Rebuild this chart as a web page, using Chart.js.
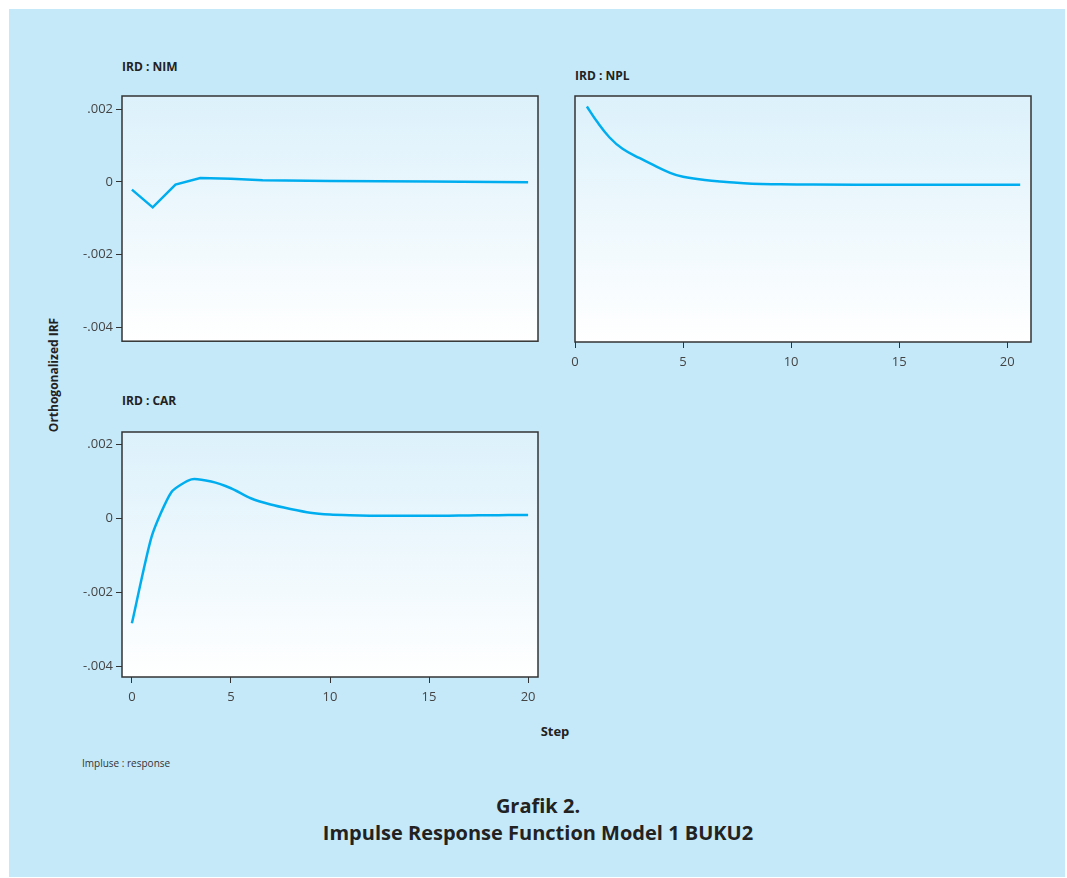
<!DOCTYPE html>
<html>
<head>
<meta charset="utf-8">
<script src="https://cdn.jsdelivr.net/npm/chart.js@4.4.1/dist/chart.umd.min.js"></script>
<style>
  html,body{margin:0;padding:0;background:#fff;}
  body{width:1067px;height:878px;position:relative;overflow:hidden;font-family:'Open Sans',sans-serif;}
  #bg{position:absolute;left:9px;top:9px;width:1056px;height:868px;background:#c6e9f9;}
  .cv{position:absolute;}
  .txt{position:absolute;color:#222;white-space:nowrap;line-height:1;}
  .ttl{font-size:12px;font-weight:700;}
</style>
</head>
<body>
<div id="bg"></div>

<div class="txt ttl" style="left:122px;top:61px;">IRD : NIM</div>
<div class="txt ttl" style="left:575px;top:70px;">IRD : NPL</div>
<div class="txt ttl" style="left:122px;top:395px;">IRD : CAR</div>
<div class="txt" style="left:54px;top:375px;font-size:12px;font-weight:700;transform:translate(-50%,-50%) rotate(-90deg);">Orthogonalized IRF</div>
<div class="txt" style="left:555px;top:731px;font-size:13px;font-weight:700;transform:translate(-50%,-50%);">Step</div>
<div class="txt" style="left:82px;top:758px;font-size:10px;color:#333;">Impluse : response</div>
<div class="txt" style="left:538px;top:806px;font-size:20px;font-weight:700;transform:translate(-50%,-50%);">Grafik 2.</div>
<div class="txt" style="left:538px;top:833px;font-size:20px;font-weight:700;transform:translate(-50%,-50%);">Impulse Response Function Model 1 BUKU2</div>

<canvas id="cNim" class="cv" style="left:40px;top:80px;width:510px;height:272px;" width="510" height="272"></canvas>
<canvas id="cNpl" class="cv" style="left:565px;top:80px;width:478px;height:298px;" width="478" height="298"></canvas>
<canvas id="cCar" class="cv" style="left:40px;top:416px;width:510px;height:297px;" width="510" height="297"></canvas>

<script>
// values
const yTicks = [0.002, 0, -0.002, -0.004];
const yTickLabels = ['.002', '0', '-.002', '-.004'];
const xTicks = [0, 5, 10, 15, 20];

const nimStep = [0, 1.05, 2.2, 3.45, 5, 6.6, 10, 15, 20];
const nimIrf  = [-0.00021, -0.00070, -0.00007, 0.00011, 0.00009, 0.00005, 0.00003, 0.00001, -0.00001];

const nplStep = [0.55, 1.0, 1.6, 2.2, 3.0, 3.5, 4.4, 5.0, 6.0, 7.0, 8.2, 9.5, 11, 15, 20.6];
const nplIrf  = [0.00208, 0.00168, 0.00123, 0.00092, 0.00066, 0.00051, 0.00026, 0.00015, 0.00006, 0.00001,
                 -0.00004, -0.000055, -0.000065, -0.00007, -0.00007];

const carStep = [0,1,2,3,4,5,6,7,8,9,10,11,12,13,14,15,16,17,18,19,20];
const carIrf  = [-0.00283, -0.00048, 0.00072, 0.00106, 0.00100, 0.00082, 0.00055, 0.00038, 0.00026, 0.00016,
                 0.00011, 0.00009, 0.00008, 0.00008, 0.00008, 0.00008, 0.00008, 0.000085, 0.00009, 0.000095, 0.0001];

Chart.defaults.font.family = "'Open Sans', sans-serif";
Chart.defaults.color = '#444';

const panelPlugin = {
  id:'panel',
  beforeDraw(chart){
    const {ctx, chartArea:a} = chart;
    const g = ctx.createLinearGradient(0, a.top, 0, a.bottom);
    g.addColorStop(0, '#dcf1fb');
    g.addColorStop(1, '#ffffff');
    ctx.save();
    ctx.fillStyle = g;
    ctx.fillRect(a.left, a.top, a.right - a.left, a.bottom - a.top);
    ctx.restore();
  },
  afterDraw(chart){
    const {ctx, chartArea:a} = chart;
    ctx.save();
    ctx.strokeStyle = '#333';
    ctx.lineWidth = 1.5;
    ctx.strokeRect(a.left, a.top, a.right - a.left, a.bottom - a.top);
    ctx.restore();
  }
};

function pts(xs, ys){ return xs.map((x,i)=>({x, y:ys[i]})); }

function makeChart(id, xs, ys, o){
  const yAxis = o.showY ? {
    type:'linear', min:o.yMin, max:o.yMax,
    afterBuildTicks: s => { s.ticks = yTicks.map(v=>({value:v})); },
    afterFit: s => { s.width = 82; },
    grid:{display:true, drawOnChartArea:false, drawTicks:true, tickLength:6, color:'#333'},
    border:{display:false},
    ticks:{padding:3, font:{size:13}, callback:(v)=>yTickLabels[yTicks.indexOf(v)]}
  } : {type:'linear', min:o.yMin, max:o.yMax, display:false};

  const xAxis = o.showX ? {
    type:'linear', min:o.xMin, max:o.xMax,
    afterBuildTicks: s => { s.ticks = xTicks.map(v=>({value:v})); },
    afterFit: s => { s.height = 32; },
    grid:{display:true, drawOnChartArea:false, drawTicks:true, tickLength:6, color:'#333'},
    border:{display:false},
    ticks:{padding:6, maxRotation:0, font:{size:13}}
  } : {type:'linear', min:o.xMin, max:o.xMax, display:false};

  return new Chart(document.getElementById(id), {
    type:'line',
    data:{datasets:[{
      data: pts(xs, ys),
      borderColor:'#00aeef', borderWidth:2.5, pointRadius:0,
      tension: o.tension || 0,
      fill:false
    }]},
    options:{
      responsive:false, animation:false,
      layout:{padding:o.pad},
      plugins:{legend:{display:false}, tooltip:{enabled:false}},
      scales:{x:xAxis, y:yAxis}
    },
    plugins:[panelPlugin]
  });
}

makeChart('cNim', nimStep, nimIrf, {showY:true, showX:false, xMin:-0.5, xMax:20.5, tension:0,
  yMin:-0.00439, yMax:0.00237, pad:{left:0, right:12, top:16, bottom:10}});
makeChart('cNpl', nplStep, nplIrf, {showY:false, showX:true, xMin:0, xMax:21.1, tension:0.4,
  yMin:-0.00439, yMax:0.00237, pad:{left:10, right:12, top:16, bottom:4}});
makeChart('cCar', carStep, carIrf, {showY:true, showX:true, xMin:-0.5, xMax:20.5, tension:0.2,
  yMin:-0.00428, yMax:0.00234, pad:{left:0, right:12, top:16, bottom:4}});
</script>
</body>
</html>
